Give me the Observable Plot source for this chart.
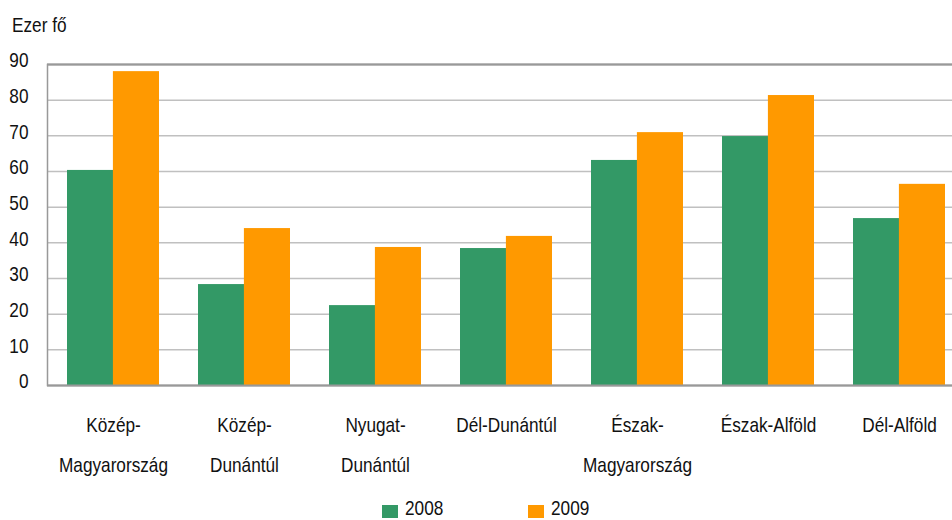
<!DOCTYPE html>
<html>
<head>
<meta charset="utf-8">
<script src="https://cdn.jsdelivr.net/npm/d3@7"></script>
<script src="https://cdn.jsdelivr.net/npm/@observablehq/plot@0.6"></script>
<style>
  html, body { margin: 0; padding: 0; background: #fff; overflow: hidden; width: 952px; height: 520px; }
  body { font-family: "Liberation Sans", Arial, sans-serif; color: #111; }
  #title { height: 40px; box-sizing: border-box; padding: 13px 0 0 12px; font-size: 21px; line-height: 24px; }
  .narrow { display: inline-block; transform: scaleX(0.82); transform-origin: left center; white-space: nowrap; }
  #chart svg { overflow: visible; display: block; }
  #legend { position: relative; height: 45px; font-size: 21px; }
  .item { position: absolute; top: 23px; height: 20px; line-height: 20px; }
  .sw { position: absolute; left: 0; top: 7px; width: 16px; height: 13px; }
  .lbl { position: absolute; left: 23px; top: 0; }
</style>
</head>
<body>
<div id="title"><span class="narrow">Ezer fő</span></div>
<div id="chart"></div>
<div id="legend"></div>
<script>
const regions = ["Közép-\nMagyarország", "Közép-\nDunántúl", "Nyugat-\nDunántúl", "Dél-Dunántúl", "Észak-\nMagyarország", "Észak-Alföld", "Dél-Alföld"];
const years = ["2008", "2009"];
const values2008 = [60.3, 28.3, 22.4, 38.4, 63.1, 69.8, 46.8];
const values2009 = [88.0, 44.0, 38.7, 41.8, 70.9, 81.3, 56.4];
const yTicks = [0, 10, 20, 30, 40, 50, 60, 70, 80, 90];
const colors = ["#339966", "#ff9900"];

const d2008 = regions.map((r, i) => ({region: r, year: years[0], value: values2008[i]}));
const d2009 = regions.map((r, i) => ({region: r, year: years[1], value: values2009[i]}));

const width = 952, marginLeft = 47, marginRight = -13;
const paddingInner = 0.3, paddingOuter = 0.15;
const step = (width - marginLeft - marginRight) / regions.length;
const half = step * (1 - paddingInner) / 2;
const font = "'Liberation Sans', Arial, sans-serif";

const plot = Plot.plot({
  width, height: 435,
  marginTop: 24, marginLeft, marginRight, marginBottom: 90,
  style: {fontFamily: font, fontSize: "21px", color: "#111", background: "transparent"},
  x: {domain: regions, paddingInner, paddingOuter, label: null},
  y: {domain: [0, 90], ticks: yTicks, label: null},
  marks: [
    Plot.gridY(yTicks, {stroke: "#c0c0c0", strokeOpacity: 1, strokeWidth: 1.5}),
    Plot.frame({stroke: "#999", strokeWidth: 1.5}),
    Plot.barY(d2008, {x: "region", y: "value", fill: colors[0], insetRight: half, insetLeft: 0}),
    Plot.barY(d2009, {x: "region", y: "value", fill: colors[1], insetLeft: half, insetRight: 0}),
    Plot.ruleY([90], {stroke: "#999", strokeWidth: 2}),
    Plot.ruleY([0], {stroke: "#999", strokeWidth: 2}),
    Plot.axisY({ticks: yTicks, tickSize: 0, tickPadding: 19, dy: -4, fontSize: 21, label: null}),
    Plot.axisX({tickSize: 0, tickPadding: 18, fontSize: 21, lineHeight: 1.9, label: null, textAnchor: "middle"})
  ]
});
// condense the text horizontally, like the narrow face of the original
plot.querySelectorAll("text").forEach(t => {
  const tr = t.getAttribute("transform") || "";
  t.setAttribute("transform", (tr + " scale(0.82,1)").trim());
});
document.getElementById("chart").appendChild(plot);

const legend = document.getElementById("legend");
years.forEach((y, i) => {
  const item = document.createElement("div");
  item.className = "item";
  item.style.left = (382 + i * 146) + "px";
  item.innerHTML = `<span class="sw" style="background:${colors[i]}"></span><span class="lbl narrow">${y}</span>`;
  legend.appendChild(item);
});
</script>
</body>
</html>
